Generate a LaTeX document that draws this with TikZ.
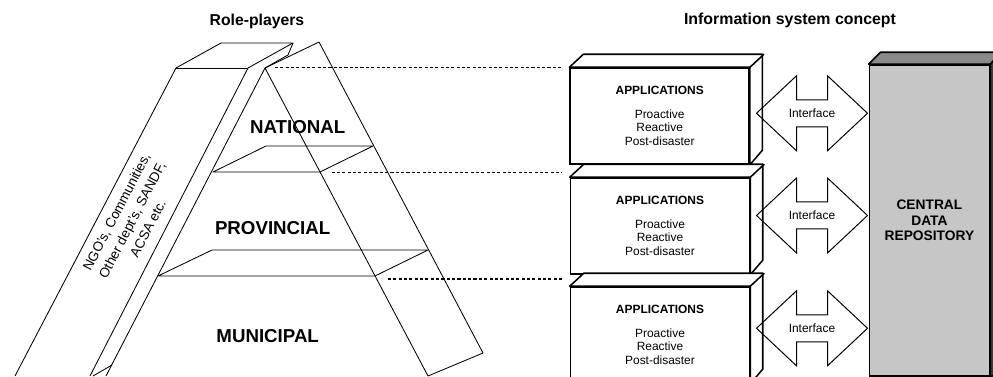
\documentclass[tikz,border=0pt]{standalone}
\usepackage{fontspec}
\setmainfont{Liberation Sans}
\usepackage{xcolor}
\usepackage{tikz}
\definecolor{R0}{HTML}{C6C6C6}
\definecolor{R1}{HTML}{8A8A8A}
\definecolor{R2}{HTML}{3C3C3C}
\tikzset{
  wire/.style={line width=0.6pt, line join=round},
  appbox/.style={draw, line width=1.1pt, fill=white, minimum width=4.475cm, minimum height=2.4cm, align=center, font=\fontsize{8.5}{9.6}\selectfont},
  face/.style={draw, line width=1.1pt, fill=white, line join=round},
  level/.style={font=\bfseries\fontsize{13.3}{15}\selectfont},
  ifarrow/.style={draw, line width=0.7pt, line join=miter},
  guide/.style={line width=0.8pt, dash pattern=on 2.2pt off 1.6pt, shorten >=0.2cm},
}

\begin{document}
\begin{tikzpicture}%
\useasboundingbox (0,0) rectangle (24.825,9.4);%
\clip (0,0) rectangle (24.825,9.4);%
\node[font=\bfseries\fontsize{11.2}{13}\selectfont] (roles) at (6.425, 8.875) {Role-players};%
\node[font=\bfseries\fontsize{11.3}{13}\selectfont] (concept) at (19.750, 8.900) {Information system concept};%
\draw[wire] (0.375,0) -- (4.400,7.700) -- (5.525,8.325) -- (7.325,8.325) -- (6.200,7.700) -- (2.250,0);%
\draw[wire] (4.400,7.700) -- (6.200,7.700);%
\draw[wire] (7.325,8.325) -- (7.200,8.025) -- (6.625,7.700);%
\draw[wire] (2.650,0) -- (6.625,7.700) -- (7.975,8.350) -- (12.075,0.575) -- (10.700,0);%
\draw[wire] (6.625,7.700) -- (10.700,0);%
\draw[wire] (2.800,0.275) -- (2.325,0);%
\draw[wire] (5.325,5.100) -- (6.650,5.750) -- (9.325,5.750) -- (8.000,5.100) -- cycle;%
\draw[wire] (3.950,2.500) -- (5.300,3.150) -- (10.700,3.150) -- (9.375,2.500) -- cycle;%
\node[level] (national) at (7.442, 6.233) {NATIONAL};%
\node[level] (provincial) at (6.817, 3.692) {PROVINCIAL};%
\node[level] (municipal) at (6.692, 1.000) {MUNICIPAL};%
\node[rotate=62.5, align=center, inner sep=1pt, font=\fontsize{9.6}{12.6}\selectfont] (others) at (3.300, 3.900) {NGO's, Communities,\\Other dept's, SANDF,\\ACSA etc.};%
\node[appbox] (app1) at (16.492, 6.500) {\textbf{APPLICATIONS}\\[7pt]Proactive\\Reactive\\Post-disaster};%
\draw[face] (app1.north west) -- ++(0.35,0.325) -- ++(4.475,0) -- ++(0,-2.4) -- (app1.south east) -- (app1.north east) -- cycle;%
\draw[face] (app1.north east) -- ++(0.35,0.325);%
\node[appbox] (app2) at (16.500, 3.750) {\textbf{APPLICATIONS}\\[7pt]Proactive\\Reactive\\Post-disaster};%
\draw[face] (app2.north west) -- ++(0.35,0.325) -- ++(4.475,0) -- ++(0,-2.4) -- (app2.south east) -- (app2.north east) -- cycle;%
\draw[face] (app2.north east) -- ++(0.35,0.325);%
\node[appbox] (app3) at (16.500, 1.025) {\textbf{APPLICATIONS}\\[7pt]Proactive\\Reactive\\Post-disaster};%
\draw[face] (app3.north west) -- ++(0.35,0.325) -- ++(4.475,0) -- ++(0,-2.4) -- (app3.south east) -- (app3.north east) -- cycle;%
\draw[face] (app3.north east) -- ++(0.35,0.325);%
\coordinate (d1) at (6.875, 7.708);%
\coordinate (d2) at (8.292, 5.092);%
\coordinate (d3) at (9.700, 2.425);%
\draw[guide] (d1) -- (d1 -| app1.west);%
\draw[guide] (d2) -- (d2 -| app2.west);%
\draw[guide] (d3) -- (d3 -| app3.west);%
\node[font=\fontsize{8.5}{10}\selectfont] (if1) at (20.300, 6.568) {Interface};%
\draw[ifarrow] (if1.center) ++(-1.3875,0) -- ++(1.0,0.9375) -- ++(0,-0.6) -- ++(0.775,0) -- ++(0,0.6) -- ++(1.0,-0.9375) -- ++(-1.0,-0.9375) -- ++(0,0.6) -- ++(-0.775,0) -- ++(0,-0.6) -- cycle;%
\node[font=\fontsize{8.5}{10}\selectfont] (if2) at (20.300, 4.013) {Interface};%
\draw[ifarrow] (if2.center) ++(-1.3875,0) -- ++(1.0,0.9375) -- ++(0,-0.6) -- ++(0.775,0) -- ++(0,0.6) -- ++(1.0,-0.9375) -- ++(-1.0,-0.9375) -- ++(0,0.6) -- ++(-0.775,0) -- ++(0,-0.6) -- cycle;%
\node[font=\fontsize{8.5}{10}\selectfont] (if3) at (20.300, 1.193) {Interface};%
\draw[ifarrow] (if3.center) ++(-1.3875,0) -- ++(1.0,0.9375) -- ++(0,-0.6) -- ++(0.775,0) -- ++(0,0.6) -- ++(1.0,-0.9375) -- ++(-1.0,-0.9375) -- ++(0,0.6) -- ++(-0.775,0) -- ++(0,-0.6) -- cycle;%
\node[draw, line width=1.1pt, fill=R0, minimum width=3.005cm, minimum height=7.775cm, align=center, font=\bfseries\fontsize{9.8}{11.1}\selectfont] (repo) at (23.235, 3.8875) {CENTRAL\\DATA\\REPOSITORY};%
\draw[line width=1.1pt, fill=R1, line join=round] (repo.north west) -- ++(0.3,0.3) -- ++(3.005,0) -- (repo.north east) -- cycle;%
\draw[line width=1.1pt, fill=R2, line join=round] (repo.north east) -- ++(0.3,0.3) -- ++(0,-8) -- (repo.south east) -- cycle;%
\end{tikzpicture}
\end{document}
